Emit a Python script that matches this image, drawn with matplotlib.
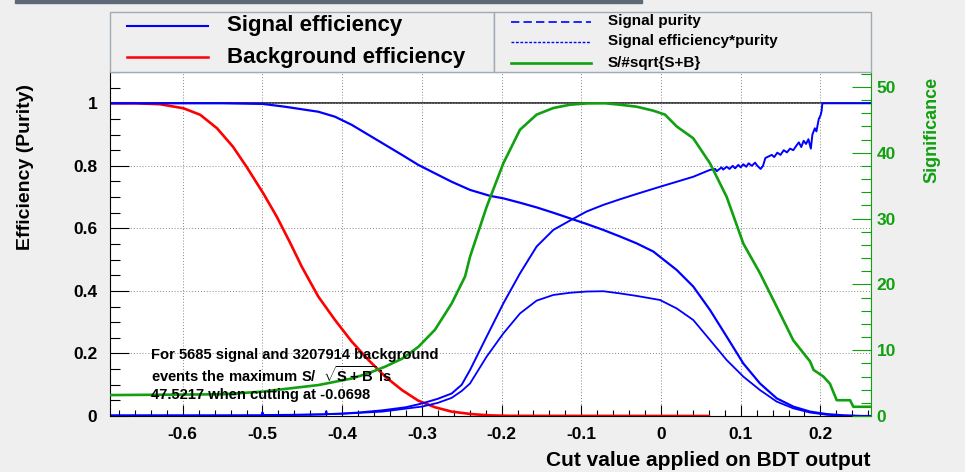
import matplotlib
matplotlib.use("Agg")
import matplotlib.pyplot as plt
from matplotlib.patches import Rectangle
from matplotlib.ticker import MultipleLocator, FuncFormatter

# ---- data (cut value on BDT output) ----
sig_eff_x = [-0.6913, -0.55, -0.50, -0.4718, -0.451, -0.430, -0.409, -0.388, -0.367,
             -0.346, -0.325, -0.3045, -0.2836, -0.2626, -0.2396, -0.2146, -0.1978,
             -0.1769, -0.156, -0.1351, -0.1142, -0.0932, -0.0724, -0.0514, -0.0305,
             -0.0097, 0.0197, 0.0405, 0.0615, 0.0824, 0.1033, 0.1242, 0.1452, 0.166,
             0.187, 0.208, 0.229, 0.25, 0.2635]
sig_eff = [1.0, 1.0, 0.998, 0.989, 0.981, 0.973, 0.957, 0.931, 0.899,
           0.867, 0.835, 0.803, 0.776, 0.749, 0.723, 0.704, 0.696,
           0.682, 0.667, 0.650, 0.632, 0.614, 0.595, 0.574, 0.552,
           0.526, 0.467, 0.414, 0.339, 0.254, 0.168, 0.104, 0.0565, 0.030,
           0.014, 0.006, 0.002, 0.0, 0.0]

bkg_eff_x = [-0.6913, -0.66, -0.6286, -0.599, -0.578, -0.557, -0.537, -0.520, -0.499,
             -0.482, -0.4655, -0.4508, -0.430, -0.409, -0.388, -0.367, -0.346, -0.325,
             -0.3045, -0.2836, -0.2626, -0.2375, -0.215, -0.19, 0.06]
bkg_eff = [1.0, 1.0, 0.997, 0.984, 0.963, 0.92, 0.861, 0.797, 0.712,
           0.637, 0.555, 0.478, 0.382, 0.307, 0.238, 0.179, 0.126, 0.083,
           0.049, 0.028, 0.014, 0.006, 0.002, 0.0005, 0.0]

purity_x = [-0.6913, -0.55, -0.501, -0.500, -0.499, -0.45, -0.421, -0.420, -0.419,
            -0.40, -0.38, -0.35, -0.32, -0.30, -0.28, -0.2626, -0.25, -0.2396,
            -0.2187, -0.1978, -0.1769, -0.156, -0.1351, -0.1142, -0.0932, -0.0724,
            -0.0514, -0.0305, -0.0013, 0.0197, 0.0405, 0.0615, 0.068, 0.070, 0.076,
            0.078, 0.0824, 0.086, 0.090, 0.093, 0.097, 0.100, 0.1033, 0.107, 0.110,
            0.114, 0.118, 0.121, 0.125, 0.128, 0.131, 0.135, 0.139, 0.142, 0.146,
            0.150, 0.154, 0.158, 0.162, 0.166, 0.170, 0.173, 0.176, 0.179, 0.182,
            0.185, 0.188, 0.190, 0.193, 0.195, 0.198, 0.200, 0.2015, 0.2025, 0.2635]
purity = [0.0018, 0.0018, 0.002, 0.012, 0.003, 0.004, 0.005, 0.015, 0.006,
          0.008, 0.011, 0.018, 0.028, 0.040, 0.055, 0.072, 0.10, 0.147,
          0.254, 0.360, 0.456, 0.542, 0.595, 0.625, 0.654, 0.675,
          0.693, 0.710, 0.733, 0.749, 0.765, 0.787, 0.790, 0.783, 0.795,
          0.788, 0.797, 0.790, 0.800, 0.792, 0.803, 0.795, 0.805, 0.797, 0.808,
          0.800, 0.810, 0.800, 0.790, 0.800, 0.825, 0.830, 0.835, 0.828, 0.842,
          0.835, 0.850, 0.843, 0.855, 0.850, 0.865, 0.875, 0.860, 0.880, 0.870,
          0.885, 0.855, 0.900, 0.920, 0.910, 0.950, 0.960, 0.975, 1.0, 1.0]

effpur_x = [-0.6913, -0.55, -0.50, -0.45, -0.40, -0.35, -0.30, -0.28, -0.2626, -0.25,
            -0.2396, -0.2187, -0.1978, -0.1769, -0.156, -0.1351, -0.1142, -0.0932,
            -0.0724, -0.0514, -0.0305, -0.0013, 0.0197, 0.0405, 0.0615, 0.0824,
            0.1033, 0.1242, 0.1452, 0.166, 0.187, 0.208, 0.229, 0.2635]
effpur = [0.0018, 0.0018, 0.002, 0.004, 0.007, 0.014, 0.030, 0.042, 0.058, 0.080,
          0.104, 0.190, 0.264, 0.328, 0.369, 0.387, 0.394, 0.398,
          0.399, 0.392, 0.384, 0.371, 0.344, 0.307, 0.243, 0.179,
          0.126, 0.083, 0.046, 0.0245, 0.011, 0.004, 0.001, 0.0]

signif_x = [-0.6913, -0.55, -0.50, -0.4655, -0.43, -0.409, -0.388, -0.367, -0.346,
            -0.325, -0.3045, -0.2836, -0.2626, -0.2458, -0.2396, -0.2187, -0.1978,
            -0.1769, -0.156, -0.1351, -0.1142, -0.0932, -0.0698, -0.0514, -0.0305,
            -0.0097, 0.005, 0.0197, 0.0405, 0.0615, 0.0824, 0.1033, 0.1242, 0.1452,
            0.166, 0.187, 0.1915, 0.2037, 0.212, 0.2205, 0.2372, 0.2414, 0.2635]
signif = [3.18, 3.3, 3.7, 4.2, 4.7, 5.2, 5.7, 6.5, 7.5,
          8.7, 10.5, 13.1, 17.1, 21.2, 24.2, 31.8, 38.4,
          43.5, 45.8, 46.8, 47.3, 47.5, 47.52, 47.3, 47.0,
          46.4, 45.8, 44.0, 42.2, 38.4, 33.3, 26.2, 21.7, 16.6,
          11.5, 8.3, 7.0, 6.0, 4.9, 2.4, 2.4, 1.4, 1.4]

max_signif = 47.5217
x_range = (-0.6913, 0.2635)

BG = "#efefef"
BLUE = "#0000ff"
RED = "#ff0000"
GREEN = "#10a010"
W, H = 965, 472

plt.rcParams['font.family'] = ['Liberation Sans', 'DejaVu Sans']
plt.rcParams['font.weight'] = 'bold'
plt.rcParams['axes.unicode_minus'] = False
plt.rcParams['mathtext.fontset'] = 'custom'
plt.rcParams['mathtext.rm'] = 'Liberation Sans:bold'
plt.rcParams['mathtext.bf'] = 'Liberation Sans:bold'


def fmt(v, pos):
    v = round(v, 3)
    if v == 0:
        return "0"
    return f"{v:g}"


fig = plt.figure(figsize=(W / 100, H / 100), dpi=100, facecolor=BG)

# main pad
ax = fig.add_axes([110 / W, 1 - 416 / H, (871 - 110) / W, (416 - 72) / H])
ax.set_xlim(*x_range)
ax.set_ylim(0, 1.1)
ax.axhline(1.0, color="#222222", lw=1.2, zorder=1.5)
ax.plot(bkg_eff_x, bkg_eff, color=RED, lw=1.9)
ax.plot(sig_eff_x, sig_eff, color=BLUE, lw=1.6)
ax.plot(purity_x, purity, color=BLUE, lw=1.4)
ax.plot(effpur_x, effpur, color=BLUE, lw=1.3)

ax.xaxis.set_major_locator(MultipleLocator(0.1))
ax.xaxis.set_minor_locator(MultipleLocator(0.02))
ax.yaxis.set_major_locator(MultipleLocator(0.2))
ax.yaxis.set_minor_locator(MultipleLocator(0.05))
ax.xaxis.set_major_formatter(FuncFormatter(fmt))
ax.yaxis.set_major_formatter(FuncFormatter(fmt))
ax.grid(True, which="major", color="#888888", linestyle=(0, (1, 2)), linewidth=0.7)
ax.tick_params(axis="y", which="major", direction="in", length=14, width=0.8,
               labelsize=12.5, pad=9, right=False)
ax.tick_params(axis="y", which="minor", direction="in", length=7, width=0.8, right=False)
ax.tick_params(axis="x", which="major", direction="in", length=8, width=0.8,
               labelsize=12.5, pad=8, top=False)
ax.tick_params(axis="x", which="minor", direction="in", length=4.3, width=0.8, top=False)
ax.spines["top"].set_color("#a0aab4")
ax.spines["right"].set_visible(False)

# significance on its own scale
ax2 = ax.twinx()
ax2.set_ylim(0, 1.1 * max_signif)
ax2.plot(signif_x, signif, color=GREEN, lw=1.9)
ax2.yaxis.set_major_locator(MultipleLocator(10))
ax2.yaxis.set_minor_locator(MultipleLocator(2))
ax2.yaxis.set_major_formatter(FuncFormatter(fmt))
ax2.tick_params(axis="y", which="major", direction="in", length=13.5, width=0.8,
                colors=GREEN, labelsize=12.5, pad=4)
ax2.tick_params(axis="y", which="minor", direction="in", length=7, width=0.8, colors=GREEN)
ax2.spines["right"].set_color(GREEN)
for s in ("top", "left", "bottom"):
    ax2.spines[s].set_visible(False)

fig.text(26 / W, 1 - 167 / H, "Efficiency (Purity)", rotation=90, ha="center",
         va="center", fontsize=14)
fig.text(871 / W, 1 - 460 / H, "Cut value applied on BDT output", ha="right",
         va="center", fontsize=15)
fig.text(932 / W, 1 - 130 / H, "Significance", rotation=90, ha="center",
         va="center", fontsize=13, color=GREEN)

# overlay in pixel coordinates for legends and notes
ov = fig.add_axes([0, 0, 1, 1])
ov.set_xlim(0, W)
ov.set_ylim(H, 0)
ov.axis("off")
ov.add_patch(Rectangle((15, 0), 627, 3, color="#5d6976"))
ov.add_patch(Rectangle((110, 12), 384, 60, facecolor=BG, edgecolor="#a0aab4", lw=1))
ov.add_patch(Rectangle((494, 12), 377, 60, facecolor=BG, edgecolor="#a0aab4", lw=1))

ov.plot([127, 208], [26, 26], color=BLUE, lw=1.5)
ov.text(227, 26, "Signal efficiency", va="center", fontsize=16)
ov.plot([127, 208], [57, 57], color=RED, lw=1.8)
ov.text(227, 57, "Background efficiency", va="center", fontsize=16)

ov.plot([511, 591], [21.5, 21.5], color=BLUE, lw=1.2, ls=(0, (5, 2.5)))
ov.text(608, 21.5, "Signal purity", va="center", fontsize=11)
ov.plot([511, 591], [41.5, 41.5], color=BLUE, lw=1.0, ls=(0, (2, 1.2)))
ov.text(608, 41.5, "Signal efficiency*purity", va="center", fontsize=11)
ov.plot([511, 591], [62.5, 62.5], color=GREEN, lw=1.9)
ov.text(608, 62.5, "S/#sqrt{S+B}", va="center", fontsize=11)

ov.text(151, 355, "For 5685 signal and 3207914 background", va="center", fontsize=10.6)
ov.text(151, 375, r"events the maximum S/  $\sqrt{\mathbf{S+B}}$ is", va="center", fontsize=10.6)
ov.text(151, 395, "47.5217 when cutting at -0.0698", va="center", fontsize=10.6)

fig.savefig("out.png", dpi=100, facecolor=BG)
